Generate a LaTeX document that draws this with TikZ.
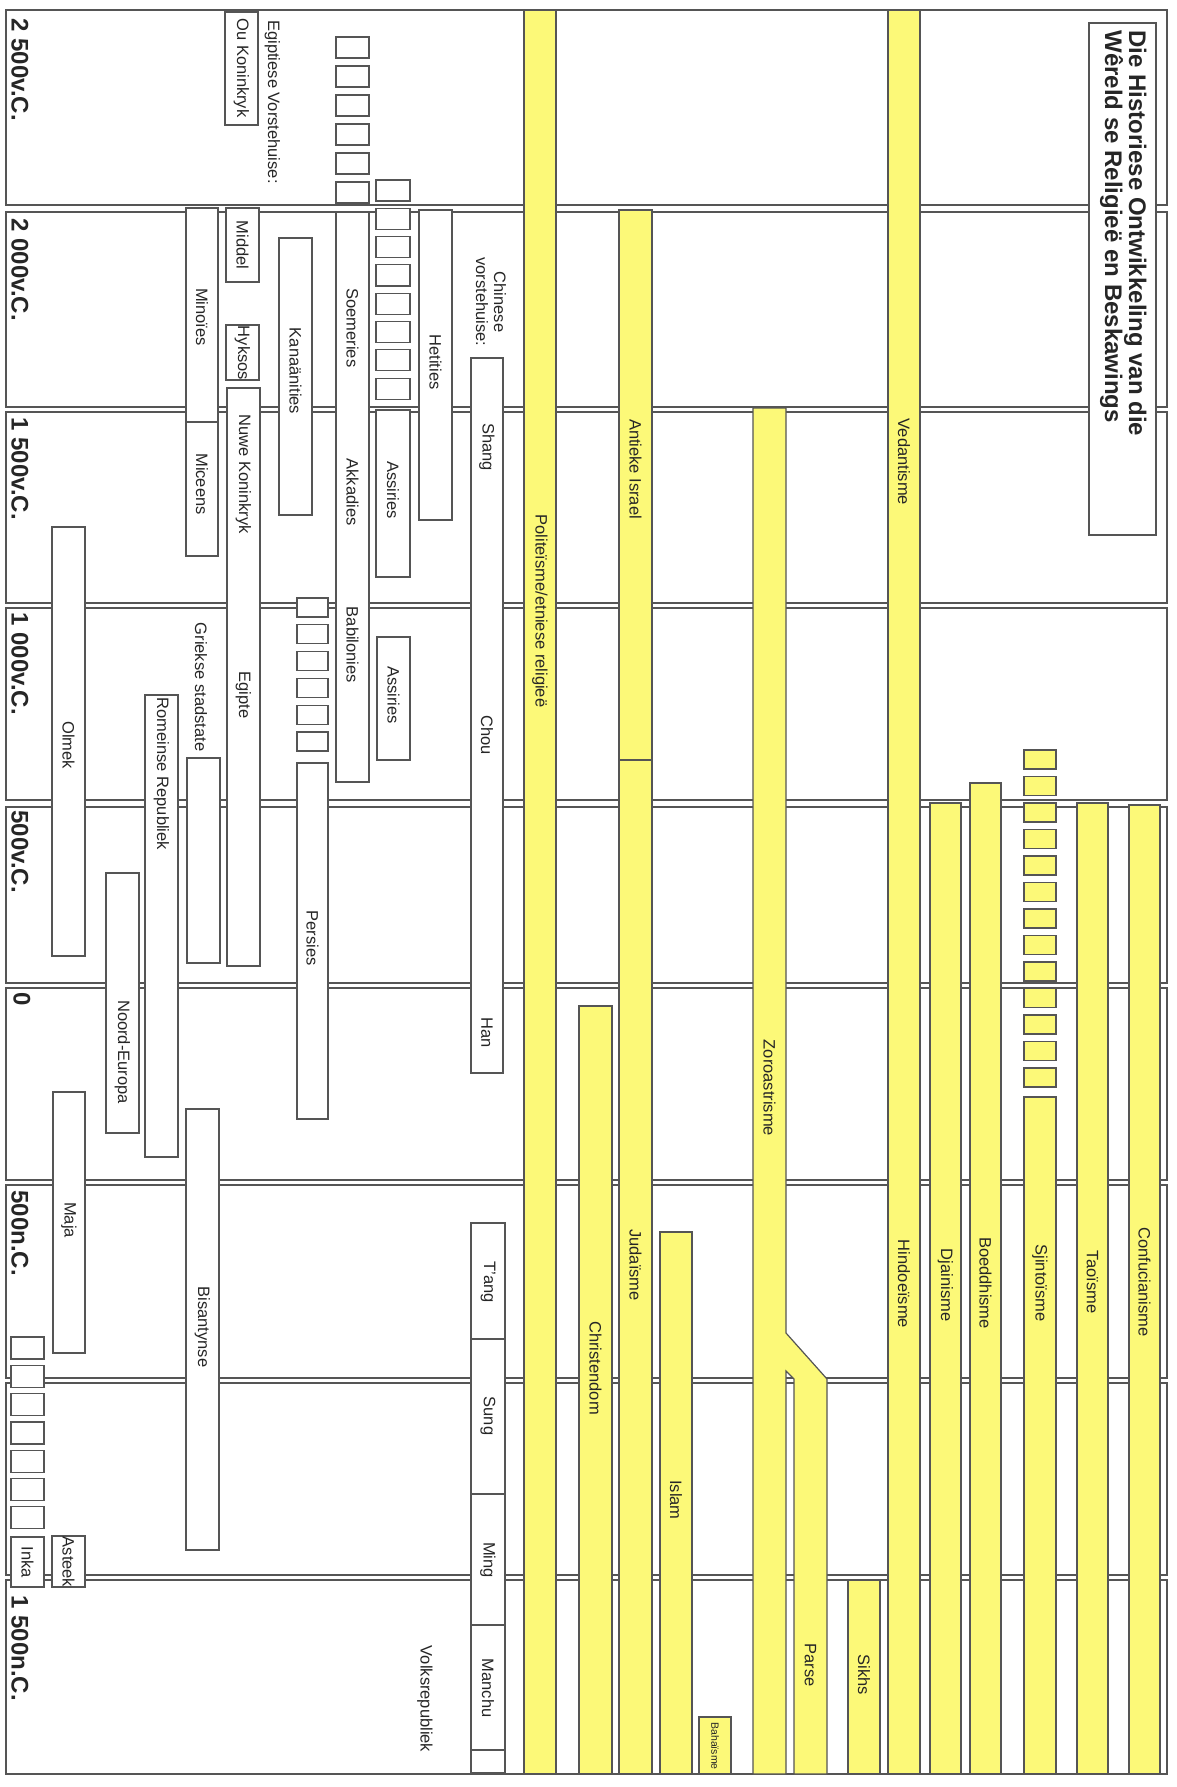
\documentclass[tikz,border=0pt]{standalone}
\usepackage{fontspec}
\setmainfont{Liberation Sans}
\definecolor{relyellow}{RGB}{252,249,120}
\definecolor{inkgrey}{RGB}{85,85,85}
\begin{document}
\begin{tikzpicture}[x=1pt,y=-1pt,line width=1.2pt,
  box/.style={draw=inkgrey,fill=white},
  rel/.style={draw=inkgrey,fill=relyellow},
  lbl/.style={rotate=-90,inner sep=0pt,text=black!85,font=\fontsize{16.5}{18}\selectfont},
  era/.style={rotate=-90,anchor=west,inner sep=0pt,text=black!85,font=\fontsize{24}{24}\bfseries\selectfont}]
\useasboundingbox (0,0) rectangle (1176,1787);
\fill[white] (0,0) rectangle (1176,1787);

\foreach \t/\b in {10/205,212/407,412/603,608/800,807/983,988/1180,1185/1378,1383/1575,1580/1774}
  \draw[inkgrey] (6,\t) rectangle (1167,\b);

\node[era] (e2500) at (20,18) {2 500v.C.};
\node[era] (e2000) at (20,218) {2 000v.C.};
\node[era] (e1500) at (20,417) {1 500v.C.};
\node[era] (e1000) at (20,612) {1 000v.C.};
\node[era] (e500v) at (20,810) {500v.C.};
\node[era] (e0) at (22,992) {0};
\node[era] (e500n) at (20,1190) {500n.C.};
\node[era] (e1500n) at (20,1595) {1 500n.C.};

% beskawings
\draw[box] (225,12) rectangle (258,125);
\node[lbl] (ouko) at (241.5,68) {Ou Koninkryk};
\node[lbl] (egvh) at (272.5,102) {Egiptiese Vorstehuise:};
\draw[box] (226,208) rectangle (259,282);
\node[lbl] (middel) at (242.5,245) {Middel};
\draw[box] (226,325) rectangle (259,380);
\node[lbl] (hyksos) at (242.5,353) {Hyksos};
\draw[box] (227,388) rectangle (260,966);
\node[lbl] (nuko) at (243.5,474) {Nuwe Koninkryk};
\node[lbl] (egipte) at (243.5,695) {Egipte};

\draw[box] (186,208) rectangle (218,422);
\node[lbl] (minoies) at (202,317) {Minoïes};
\draw[box] (186,422) rectangle (218,556);
\node[lbl] (miceens) at (202,484) {Miceens};
\draw[box] (279,238) rectangle (312,515);
\node[lbl] (kanaan) at (295.5,371) {Kanaänities};

\foreach \k in {0,...,5}
  \draw[box] (336,37+29*\k) rectangle (369,58+29*\k);
\draw[box] (336,212) rectangle (369,782);
\node[lbl] (soem) at (352.5,328) {Soemeries};
\node[lbl] (akkad) at (352.5,492) {Akkadies};
\node[lbl] (babil) at (352.5,645) {Babilonies};

\foreach \k in {0,...,7}
  \draw[box] (376,180+28.3*\k) rectangle (410,201+28.3*\k);
\draw[box] (376,410) rectangle (410,577);
\node[lbl] (assir) at (393,490) {Assiries};
\draw[box] (377,637) rectangle (410,760);
\node[lbl] (assirb) at (393.5,695) {Assiries};
\draw[box] (419,210) rectangle (452,520);
\node[lbl] (hetit) at (435.5,362) {Hetities};

\node[lbl,align=center] (chvh) at (491,302) {Chinese\\vorstehuise:};
\draw[box] (471,358) rectangle (503,1073);
\node[lbl] (shang) at (487,447) {Shang};
\node[lbl] (chou) at (487,735) {Chou};
\node[lbl] (han) at (487,1033) {Han};
\draw[box] (471,1223) rectangle (505,1773);
\foreach \d in {1339,1494,1625,1750}
  \draw[inkgrey] (471,\d) -- (505,\d);
\node[lbl] (tang) at (488,1282) {T’ang};
\node[lbl] (sung) at (488,1416) {Sung};
\node[lbl] (ming) at (488,1560) {Ming};
\node[lbl] (manchu) at (488,1688) {Manchu};
\node[lbl] (volks) at (425,1699) {Volksrepubliek};

\foreach \k in {0,...,5}
  \draw[box] (297,598+26.8*\k) rectangle (328,617+26.8*\k);
\draw[box] (297,763) rectangle (328,1119);
\node[lbl] (persies) at (312.5,938) {Persies};

\draw[box] (52,527) rectangle (85,956);
\node[lbl] (olmek) at (68.5,745) {Olmek};
\draw[box] (53,1092) rectangle (85,1353);
\node[lbl] (maja) at (69,1220) {Maja};
\draw[box] (106,873) rectangle (139,1133);
\node[lbl] (noord) at (122.5,1052) {Noord-Europa};
\draw[box] (145,695) rectangle (178,1157);
\node[lbl] (romeins) at (161.5,774) {Romeinse Republiek};
\node[lbl] (grieks) at (201,687) {Griekse stadstate};
\draw[box] (187,758) rectangle (220,963);
\draw[box] (186,1109) rectangle (219,1550);
\node[lbl] (bisant) at (202.5,1327) {Bisantynse};

\foreach \k in {0,...,6}
  \draw[box] (11,1337+28.3*\k) rectangle (44,1359+28.3*\k);
\draw[box] (11,1537) rectangle (44,1587);
\node[lbl] (inka) at (27.5,1562) {Inka};
\draw[box] (52,1536) rectangle (85,1587);
\node[lbl] (asteek) at (68.5,1562) {Asteek};

% religies
\draw[rel] (524,10) rectangle (556,1774);
\node[lbl] (poly) at (540,611) {Politeïsme/etniese religieë};
\draw[rel] (579,1006) rectangle (612,1774);
\node[lbl] (christ) at (595.5,1368) {Christendom};
\draw[rel] (619,210) rectangle (652,1774);
\draw[inkgrey] (619,760) -- (652,760);
\node[lbl] (israel) at (635.5,469) {Antieke Israel};
\node[lbl] (juda) at (635.5,1265) {Judaïsme};
\draw[rel] (660,1232) rectangle (692,1774);
\node[lbl] (islam) at (676,1500) {Islam};
\draw[rel] (699,1717) rectangle (731,1774);
\node[lbl,font=\fontsize{10.5}{11}\selectfont] (bahai) at (715,1746) {Bahaïsme};

\draw[rel] (753,408) -- (786,408) -- (786,1333) -- (827,1379) -- (827,1774) -- (794,1774)
  -- (794,1379) -- (786,1371) -- (786,1774) -- (753,1774) -- cycle;
\node[lbl] (zoro) at (769.5,1088) {Zoroastrisme};
\node[lbl] (parse) at (810.5,1665) {Parse};
\draw[rel] (848,1580) rectangle (880,1774);
\node[lbl] (sikhs) at (864,1675) {Sikhs};

\draw[rel] (888,10) rectangle (920,1774);
\node[lbl] (vedan) at (904,462) {Vedantisme};
\node[lbl] (hindu) at (904,1284) {Hindoeïsme};
\draw[rel] (930,803) rectangle (961,1774);
\node[lbl] (djain) at (945.5,1285) {Djainisme};
\draw[rel] (970,783) rectangle (1001,1774);
\node[lbl] (boedd) at (985.5,1283) {Boeddhisme};
\foreach \k in {0,...,12}
  \draw[rel] (1024,750+26.5*\k) rectangle (1056,769+26.5*\k);
\draw[rel] (1024,1097) rectangle (1056,1774);
\node[lbl] (sjinto) at (1040,1283) {Sjintoïsme};
\draw[rel] (1077,803) rectangle (1108,1774);
\node[lbl] (tao) at (1092.5,1282) {Taoïsme};
\draw[rel] (1129,805) rectangle (1160,1774);
\node[lbl] (confu) at (1144.5,1282) {Confucianisme};

\draw[box] (1089,23) rectangle (1156,535);
\node[rotate=-90,anchor=north west,align=left,inner sep=0pt,text=black!85,
  font=\fontsize{24}{24}\bfseries\selectfont] (title) at (1147,30)
  {Die Historiese Ontwikkeling van die\\Wêreld se Religieë en Beskawings};
\end{tikzpicture}
\end{document}
